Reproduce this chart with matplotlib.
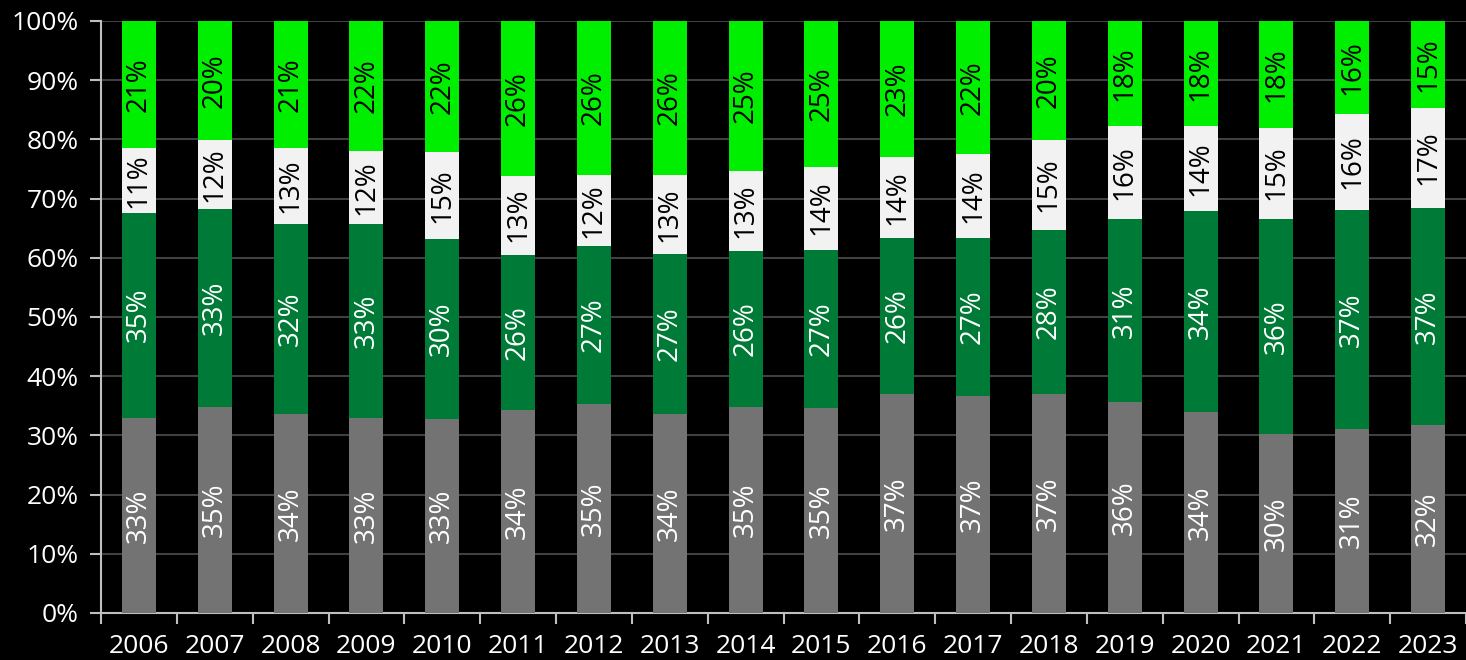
import numpy as np
import matplotlib.pyplot as plt
from matplotlib.ticker import FixedLocator, PercentFormatter

years = [str(y) for y in range(2006, 2024)]
gris = [33.0, 34.8, 33.6, 32.9, 32.8, 34.3, 35.3, 33.6, 34.8, 34.6, 37.0, 36.7, 37.0, 35.6, 34.0, 30.2, 31.1, 31.8]
verde_osc = [34.6, 33.4, 32.1, 32.8, 30.4, 26.2, 26.7, 27.0, 26.4, 26.8, 26.4, 26.6, 27.7, 31.0, 33.9, 36.4, 37.0, 36.6]
blanco = [11.0, 11.7, 12.9, 12.3, 14.7, 13.4, 12.0, 13.4, 13.4, 14.0, 13.6, 14.3, 15.2, 15.7, 14.4, 15.4, 16.2, 16.9]
verde = [21.4, 20.1, 21.4, 22.0, 22.1, 26.1, 26.0, 26.0, 25.4, 24.6, 23.0, 22.4, 20.1, 17.7, 17.7, 18.0, 15.7, 14.7]

series = [
    (gris, "#737373", "white"),
    (verde_osc, "#007A37", "white"),
    (blanco, "#F2F2F2", "black"),
    (verde, "#00EE00", "black"),
]

plt.rcParams['font.family'] = ['Open Sans', 'DejaVu Sans']

fig = plt.figure(figsize=(14.66, 6.6), dpi=100, facecolor="black")
ax = fig.add_axes([101 / 1466, 47 / 660, 1 - 101 / 1466, 592 / 660])
ax.set_facecolor("black")

x = np.arange(len(years))
bottom = np.zeros(len(years))
for vals, color, tcolor in series:
    vals = np.array(vals)
    ax.bar(x, vals, width=0.45, bottom=bottom, color=color, zorder=3)
    for xi, b, v in zip(x, bottom, vals):
        ax.text(xi, b + v / 2, f"{round(v):.0f}%", rotation=90, ha="center", va="center",
                color=tcolor, fontsize=20, zorder=4)
    bottom += vals

ax.set_xlim(-0.5, len(years) - 0.5)
ax.set_ylim(0, 100)
ax.set_yticks(np.arange(0, 101, 10))
ax.yaxis.set_major_formatter(PercentFormatter(decimals=0))
ax.grid(axis="y", color="#404040", linewidth=1.5, zorder=0)

ax.set_xticks(x)
ax.set_xticklabels(years)
ax.xaxis.set_minor_locator(FixedLocator(np.arange(-0.5, len(years), 1)))
ax.tick_params(axis="x", which="major", length=0, pad=15, colors="white", labelsize=19)
ax.tick_params(axis="x", which="minor", length=8, width=1.5, color="#bfbfbf")
ax.tick_params(axis="y", length=8, width=1.5, color="#bfbfbf", labelcolor="white", labelsize=19, pad=8)

for s in ["top", "right"]:
    ax.spines[s].set_visible(False)
for s in ["left", "bottom"]:
    ax.spines[s].set_color("#bfbfbf")
    ax.spines[s].set_linewidth(1.5)

fig.savefig("out.png", dpi=100, facecolor="black")
